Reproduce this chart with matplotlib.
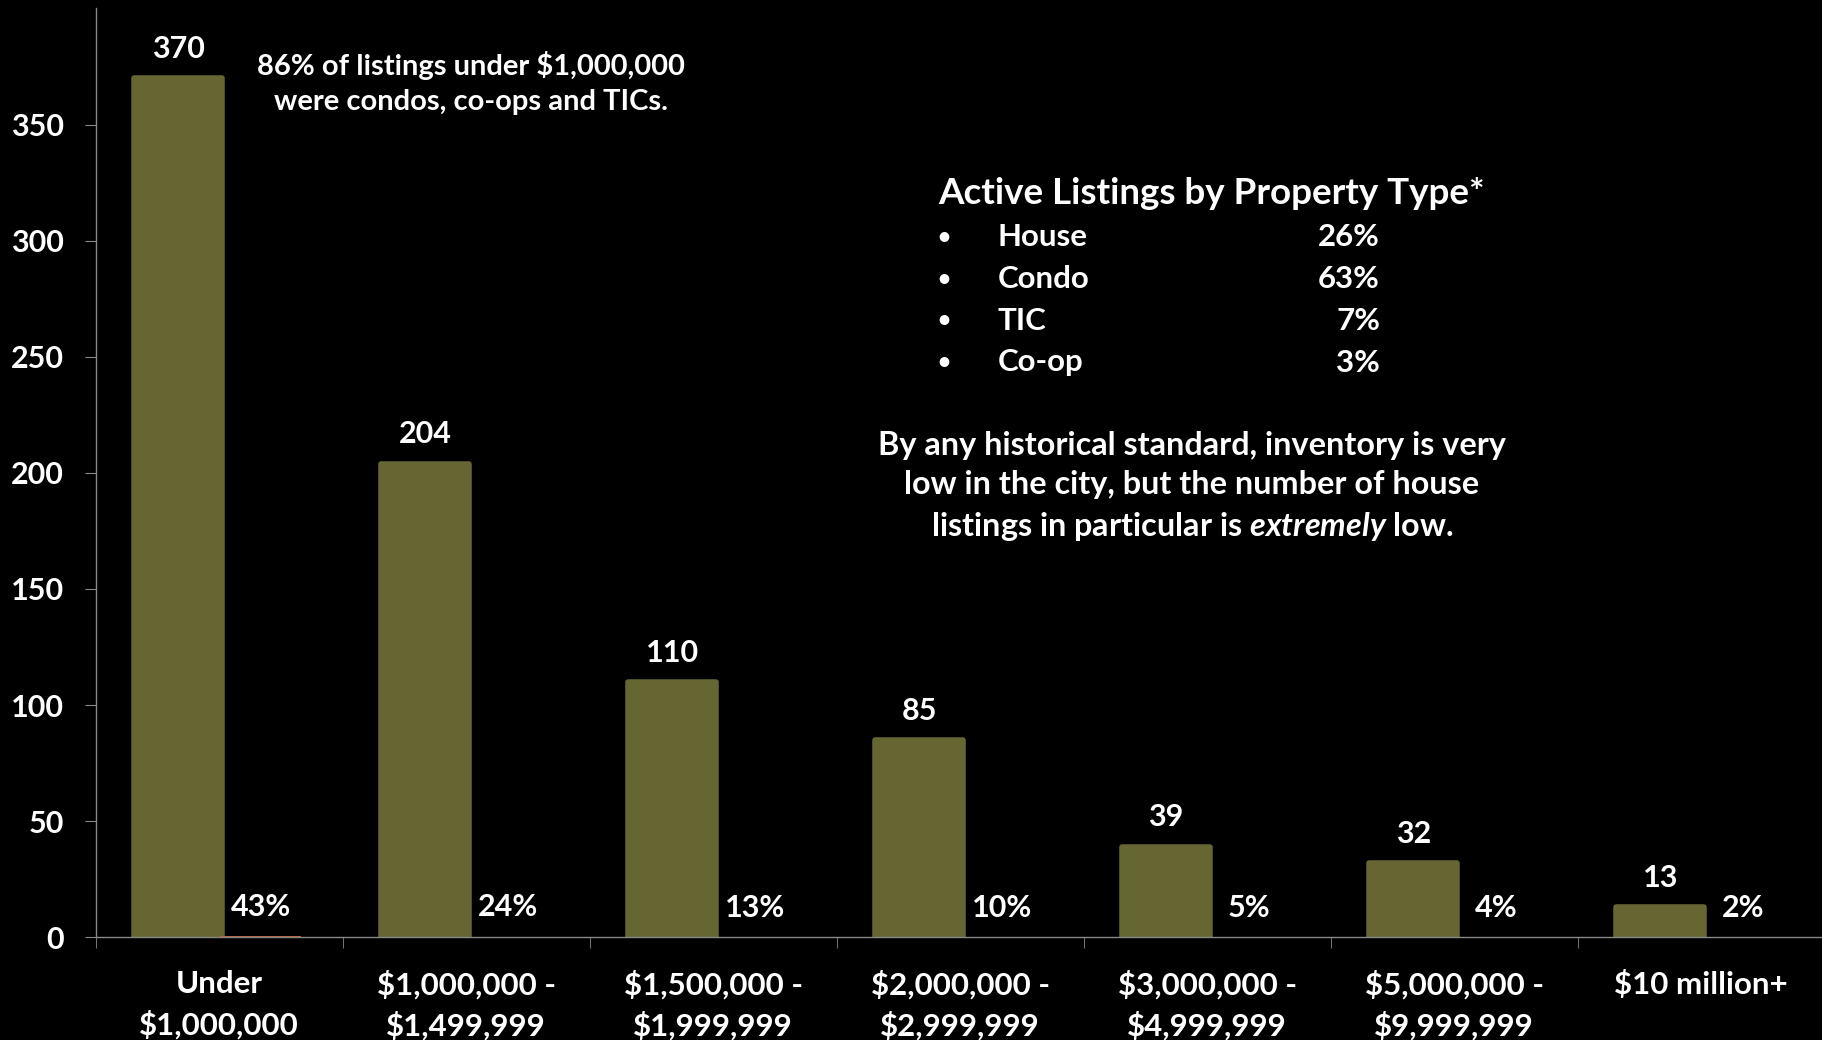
import numpy as np
import matplotlib
matplotlib.use('Agg')
import matplotlib.pyplot as plt

# data
categories = ["Under\n\\$1,000,000", "\\$1,000,000 -\n\\$1,499,999", "\\$1,500,000 -\n\\$1,999,999",
              "\\$2,000,000 -\n\\$2,999,999", "\\$3,000,000 -\n\\$4,999,999", "\\$5,000,000 -\n\\$9,999,999",
              "\\$10 million+"]
listings = [370, 204, 110, 85, 39, 32, 13]
share = [0.43, 0.24, 0.13, 0.10, 0.05, 0.04, 0.02]
share_labels = ["43%", "24%", "13%", "10%", "5%", "4%", "2%"]

prop_types = ["House", "Condo", "TIC", "Co-op"]
prop_share = ["26%", "63%", "7%", "3%"]

plt.rcParams['font.family'] = ['Lato', 'DejaVu Sans']
plt.rcParams['font.weight'] = 'bold'
plt.rcParams['mathtext.fontset'] = 'custom'
plt.rcParams['mathtext.rm'] = 'Lato:bold'
plt.rcParams['mathtext.it'] = 'Lato:bold:italic'

W, H = 1822, 1040
def px(x, y):  # pixel position -> figure fraction
    return x / W, 1 - y / H

fig = plt.figure(figsize=(W / 100, H / 100), dpi=100, facecolor='black')
ax = fig.add_axes([95.7 / W, (H - 937.3) / H, 1729 / W, (937.3 - 8.5) / H])
ax.set_facecolor('black')

x = np.arange(len(categories))
olive = ax.bar(x - 0.166, listings, width=0.358, color='#666633', edgecolor='#666633',
               linewidth=4, joinstyle='round')
small = ax.bar(x + 0.168, share, width=0.33, color='#C0643C')

ax.bar_label(olive, labels=[str(v) for v in listings], padding=11, color='white',
             fontsize=22, fontweight='bold')
ax.bar_label(small, labels=share_labels, padding=11, color='white', fontsize=22, fontweight='bold')

ax.set_xlim(-0.5, 6.5)
ax.set_ylim(0, 400)
ax.set_yticks(range(0, 351, 50))
ax.set_xticks(x)
ax.set_xticklabels(categories, linespacing=1.5)
ax.set_xticks(np.arange(-0.5, 7, 1), minor=True)

for s in ['top', 'right']:
    ax.spines[s].set_visible(False)
for s in ['left', 'bottom']:
    ax.spines[s].set_color('#888888')
    ax.spines[s].set_linewidth(1.0)

ax.tick_params(axis='y', colors='#888888', labelcolor='white', labelsize=22, length=8, pad=15)
ax.tick_params(axis='x', which='major', length=0, labelcolor='white', labelsize=22.5, pad=23.5)
ax.tick_params(axis='x', which='minor', length=8, color='#888888')

# annotations
fig.text(*px(471, 83), "86% of listings under \\$1,000,000\nwere condos, co-ops and TICs.",
         ha='center', va='center', color='white', fontsize=21, linespacing=1.4)

fig.text(*px(938, 194), "Active Listings by Property Type*", ha='left', va='center',
         color='white', fontsize=26.5)
rows_y = [237.5, 279.5, 320.5, 362.5]
for name, val, yy in zip(prop_types, prop_share, rows_y):
    fig.text(*px(944, yy), "\u2022", ha='center', va='center', color='white', fontsize=16)
    fig.text(*px(998, yy), name, ha='left', va='center', color='white', fontsize=22.5)
    fig.text(*px(1380, yy), val, ha='right', va='center', color='white', fontsize=22.5)

fig.text(*px(1192, 487),
         "By any historical standard, inventory is very\n"
         "low in the city, but the number of house\n"
         "listings in particular is $extremely$ low.",
         ha='center', va='center', multialignment='center', color='white', fontsize=23.3,
         linespacing=1.42)

fig.savefig('out.png', dpi=100, facecolor='black')
